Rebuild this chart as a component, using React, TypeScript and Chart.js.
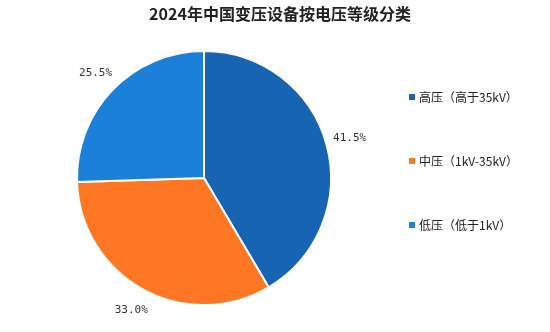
import React, { useEffect, useRef } from "react";
import { Chart, registerables } from "chart.js";

Chart.register(...registerables);

const title = "2024年中国变压设备按电压等级分类";
const categories = ["高压（高于35kV）", "中压（1kV-35kV）", "低压（低于1kV）"];
const values = [41.5, 33.0, 25.5];
const colors = ["#1765b2", "#ff7722", "#1b80da"];

const overlay = {
  id: "overlay",
  afterDraw(chart: any) {
    const ctx = chart.ctx as CanvasRenderingContext2D;
    ctx.save();
    // title
    ctx.fillStyle = "#222";
    ctx.font = "bold 16px 'Noto Sans CJK SC'";
    ctx.textAlign = "center";
    ctx.textBaseline = "middle";
    ctx.fillText(title, 280, 14);

    // percentage labels
    const meta = chart.getDatasetMeta(0);
    ctx.font = "11px 'DejaVu Sans Mono', monospace";
    ctx.fillStyle = "#333";
    meta.data.forEach((arc: any, i: number) => {
      const mid = (arc.startAngle + arc.endAngle) / 2;
      const r = arc.outerRadius + 24;
      const x = arc.x + Math.cos(mid) * r;
      const y = arc.y + Math.sin(mid) * r;
      ctx.fillText(values[i].toFixed(1) + "%", x, y);
    });

    // legend
    const ys = [97, 161, 225];
    ctx.textAlign = "left";
    ctx.font = "12px 'Noto Sans CJK SC'";
    categories.forEach((c, i) => {
      ctx.fillStyle = colors[i];
      ctx.fillRect(409, ys[i] - 3, 6, 6);
      ctx.fillStyle = "#222";
      ctx.fillText(c, 419, ys[i]);
    });
    ctx.restore();
  },
};

export default function App() {
  const ref = useRef<HTMLCanvasElement>(null);
  useEffect(() => {
    document.body.style.margin = "0";
    const chart = new Chart(ref.current!, {
      type: "pie",
      data: {
        labels: categories,
        datasets: [
          {
            data: values,
            backgroundColor: colors,
            borderColor: "#ffffff",
            borderWidth: 2,
          },
        ],
      },
      options: {
        animation: false,
        responsive: false,
        layout: { padding: { left: 76, right: 218, top: 49, bottom: 25 } },
        plugins: {
          legend: { display: false },
          title: { display: false },
          tooltip: { enabled: false },
        },
      },
      plugins: [overlay],
    });
    return () => chart.destroy();
  }, []);
  return (
    <div style={{ width: 550, height: 332 }}>
      <canvas ref={ref} width={550} height={332} />
    </div>
  );
}
